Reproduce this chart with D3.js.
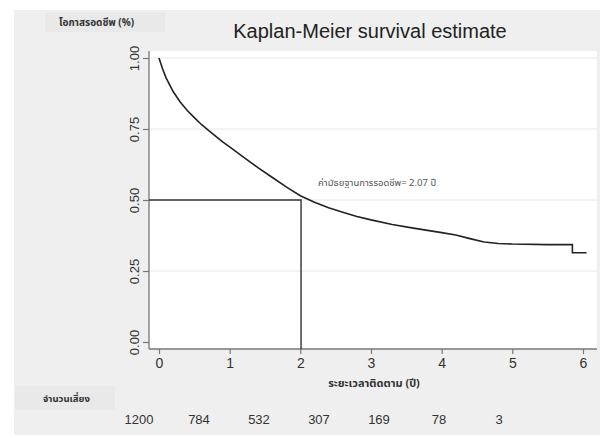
<!DOCTYPE html>
<html>
<head>
<meta charset="utf-8">
<script src="https://cdn.jsdelivr.net/npm/d3@7"></script>
<style>
  body { margin: 0; background: #fff; }
  svg { display: block; }
  .thai { font-family: "Noto Sans Thai", "Tahoma", "Noto Sans", "DejaVu Sans", sans-serif; }
  text { font-family: "Liberation Sans", Arial, sans-serif; }
</style>
</head>
<body>
<div id="chart"></div>
<script>
// survival curve (years, proportion surviving)
var times    = [0, 0.05, 0.1, 0.2, 0.3, 0.4, 0.5, 0.6, 0.7, 0.8, 0.9, 1.0, 1.2, 1.4, 1.6, 1.8, 2.0, 2.2, 2.4, 2.6, 2.8, 3.0, 3.3, 3.6, 4.0, 4.2, 4.4, 4.6, 4.8, 5.0, 5.5, 5.85, 5.85, 6.05];
var survival = [1.0, 0.962, 0.93, 0.882, 0.845, 0.815, 0.79, 0.766, 0.745, 0.725, 0.705, 0.687, 0.65, 0.614, 0.58, 0.546, 0.515, 0.492, 0.473, 0.457, 0.442, 0.43, 0.414, 0.401, 0.385, 0.377, 0.364, 0.352, 0.347, 0.345, 0.343, 0.343, 0.314, 0.314];

var xTicks = [0, 1, 2, 3, 4, 5, 6];
var yTicks = [0, 0.25, 0.5, 0.75, 1];
var atRisk = [1200, 784, 532, 307, 169, 78, 3];

var medianDrawn = 2.01,
    medianSurv = 0.5,
    medianLabel = "ค่ามัธยฐานการรอดชีพ= 2.07 ปี";

var width = 608, height = 438;

var svg = d3.select("#chart").append("svg")
    .attr("width", width)
    .attr("height", height);

// grey panel and white plot region
svg.append("rect")
    .attr("x", 14).attr("y", 10)
    .attr("width", 586).attr("height", 425)
    .attr("fill", "#efefef");

var plot = {left: 149, top: 51, right: 597, bottom: 349};

svg.append("rect")
    .attr("x", plot.left).attr("y", plot.top)
    .attr("width", plot.right - plot.left).attr("height", plot.bottom - plot.top)
    .attr("fill", "#fff");

var x = d3.scaleLinear().domain([0, 6]).range([159, 583]);
var y = d3.scaleLinear().domain([0, 1]).range([342, 58]);

// faint horizontal grid
svg.append("g")
    .selectAll("line")
    .data(yTicks.filter(function(d) { return d > 0; }))
    .enter().append("line")
    .attr("x1", plot.left).attr("x2", plot.right)
    .attr("y1", function(d) { return y(d); })
    .attr("y2", function(d) { return y(d); })
    .attr("stroke", "#e6e6e6")
    .attr("stroke-width", 1);

// axes
var yAxis = svg.append("g")
    .attr("transform", "translate(" + plot.left + ",0)")
    .call(d3.axisLeft(y).tickValues(yTicks).tickFormat(d3.format(".2f")).tickSize(6));
yAxis.select(".domain").attr("d", "M0," + plot.top + "V" + plot.bottom);

var xAxis = svg.append("g")
    .attr("transform", "translate(0," + plot.bottom + ")")
    .call(d3.axisBottom(x).tickValues(xTicks).tickFormat(d3.format("d")).tickSize(5).tickPadding(4));
xAxis.select(".domain").attr("d", "M" + plot.left + ",0H" + plot.right);

svg.selectAll(".domain").attr("stroke", "#777").attr("stroke-width", 1.3);
svg.selectAll(".tick line").attr("stroke", "#777").attr("stroke-width", 1.2);
svg.selectAll(".tick text")
    .attr("fill", "#333")
    .attr("font-size", 14)
    .attr("font-family", "Liberation Sans, Arial, sans-serif");

// rotated y tick labels, as Stata draws them
yAxis.selectAll(".tick text")
    .attr("font-size", 13)
    .attr("x", 0)
    .attr("y", 0)
    .attr("dy", 0)
    .attr("text-anchor", "middle")
    .attr("transform", "translate(-10,0) rotate(-90)");

// median lines
svg.append("path")
    .attr("d", "M" + plot.left + "," + y(medianSurv) + "H" + x(medianDrawn) + "V" + plot.bottom)
    .attr("fill", "none")
    .attr("stroke", "#333")
    .attr("stroke-width", 1.4);

// KM curve
var line = d3.line()
    .x(function(d) { return x(d[0]); })
    .y(function(d) { return y(d[1]); });

svg.append("path")
    .datum(d3.zip(times, survival))
    .attr("d", line)
    .attr("fill", "none")
    .attr("stroke", "#222")
    .attr("stroke-width", 1.6);

// title
svg.append("text")
    .attr("x", 370).attr("y", 38)
    .attr("text-anchor", "middle")
    .attr("font-size", 20)
    .attr("fill", "#222")
    .text("Kaplan-Meier survival estimate");

// y label box
svg.append("rect")
    .attr("x", 45).attr("y", 12)
    .attr("width", 120).attr("height", 20)
    .attr("fill", "#e9e9e9");
svg.append("text")
    .attr("class", "thai")
    .attr("x", 59).attr("y", 26)
    .attr("font-size", 10)
    .attr("font-weight", "bold")
    .attr("fill", "#333")
    .text("โอกาสรอดชีพ (%)");

// median annotation
svg.append("text")
    .attr("class", "thai")
    .attr("x", 318).attr("y", 186)
    .attr("font-size", 9.5)
    .attr("fill", "#555")
    .text(medianLabel);

// x title
svg.append("text")
    .attr("class", "thai")
    .attr("x", 374).attr("y", 387)
    .attr("text-anchor", "middle")
    .attr("font-size", 11)
    .attr("font-weight", "bold")
    .attr("fill", "#333")
    .text("ระยะเวลาติดตาม (ปี)");

// number at risk
svg.append("rect")
    .attr("x", 15).attr("y", 386)
    .attr("width", 100).attr("height", 24)
    .attr("fill", "#e9e9e9");
svg.append("text")
    .attr("class", "thai")
    .attr("x", 43).attr("y", 402)
    .attr("font-size", 9.5)
    .attr("font-weight", "bold")
    .attr("fill", "#333")
    .text("จำนวนเสี่ยง");

var riskX = d3.scalePoint().domain(d3.range(atRisk.length)).range([139, 499]);

svg.append("g")
    .selectAll("text")
    .data(atRisk)
    .enter().append("text")
    .attr("x", function(d, i) { return riskX(i); })
    .attr("y", 424)
    .attr("text-anchor", "middle")
    .attr("font-size", 13)
    .attr("fill", "#333")
    .text(function(d) { return d; });
</script>
</body>
</html>
